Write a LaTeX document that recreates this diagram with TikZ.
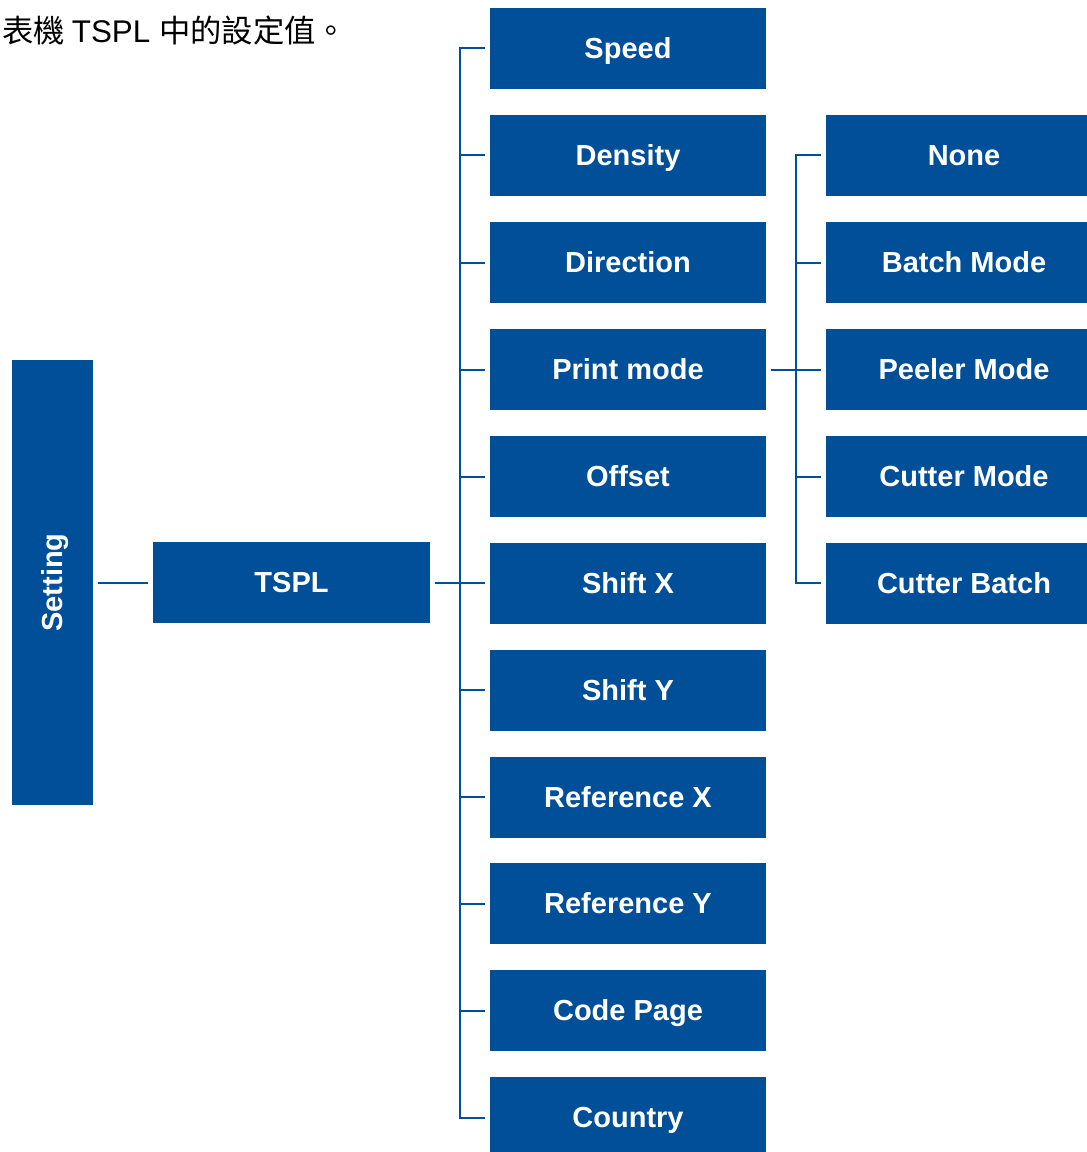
\documentclass[tikz,border=0pt]{standalone}
\usepackage{fontspec}
\setmainfont{Liberation Sans}
\newfontfamily\cjk{Noto Sans CJK TC}
\definecolor{tscblue}{HTML}{004F98}

\begin{document}
\begin{tikzpicture}[
	x=0.75pt, y=-0.75pt,
	item/.style={ fill=tscblue, text=white, inner sep=0pt, minimum width=207pt, minimum height=60.75pt,
		text height=15.6pt, text depth=0pt, font=\fontsize{21.75}{26}\selectfont\bfseries },
	root/.style={ item, rotate=90, minimum width=333.75pt },
	link/.style={ draw=tscblue, line width=1.5pt },
	gap/.style={ shorten >=3.75pt, shorten <=3.75pt }
]
\useasboundingbox (0,0) rectangle (1086,1152);

\node at (2,31) (title) [anchor=west, inner sep=0pt, font=\fontsize{23.5}{28}\selectfont] {\cjk 表機 \rmfamily TSPL \cjk 中的設定值。};

\node at (52.5,582.5) (setting) [root] {Setting};
\node at (291.5,582.5) (tspl) [item, minimum width=207.75pt] {TSPL};
\draw[link,gap] (setting) -- (tspl);

% second level
\node at (628,48.5) (speed) [item] {Speed};
\node at (628,155.5) (density) [item] {Density};
\node at (628,262.5) (direction) [item] {Direction};
\node at (628,369.5) (printmode) [item] {Print mode};
\node at (628,476.5) (offset) [item] {Offset};
\node at (628,583) (shiftx) [item] {Shift X};
\node at (628,690) (shifty) [item] {Shift Y};
\node at (628,797) (refx) [item] {Reference X};
\node at (628,903.5) (refy) [item] {Reference Y};
\node at (628,1010.5) (codepage) [item] {Code Page};
\node at (628,1117.5) (country) [item] {Country};
\path (tspl.east) -- (tspl.east -| speed.west) coordinate[midway] (hub);
\draw[link,shorten <=3.75pt] (tspl.east) -- (hub);
\draw[link,gap] (speed.west) -- (hub |- speed.west) -- (hub |- country.west) -- (country.west);
\foreach \p in {density,direction,printmode,offset,shiftx,shifty,refx,refy,codepage}
	\draw[link,shorten >=3.75pt] (hub |- \p.west) to (\p.west);

% third level
\node at (964,155.5) (none) [item] {None};
\node at (964,262.5) (batch) [item] {Batch Mode};
\node at (964,369.5) (peeler) [item] {Peeler Mode};
\node at (964,476.5) (cutter) [item] {Cutter Mode};
\node at (964,583) (cutbatch) [item] {Cutter Batch};
\path (printmode.east) -- (printmode.east -| peeler.west) coordinate[midway] (subhub);
\draw[link,gap] (printmode.east) -- (peeler.west);
\draw[link,gap] (none.west) -- (subhub |- none.west) -- (subhub |- cutbatch.west) -- (cutbatch.west);
\foreach \p in {batch,cutter}
	\draw[link,shorten >=3.75pt] (subhub |- \p.west) to (\p.west);

\end{tikzpicture}
\end{document}
